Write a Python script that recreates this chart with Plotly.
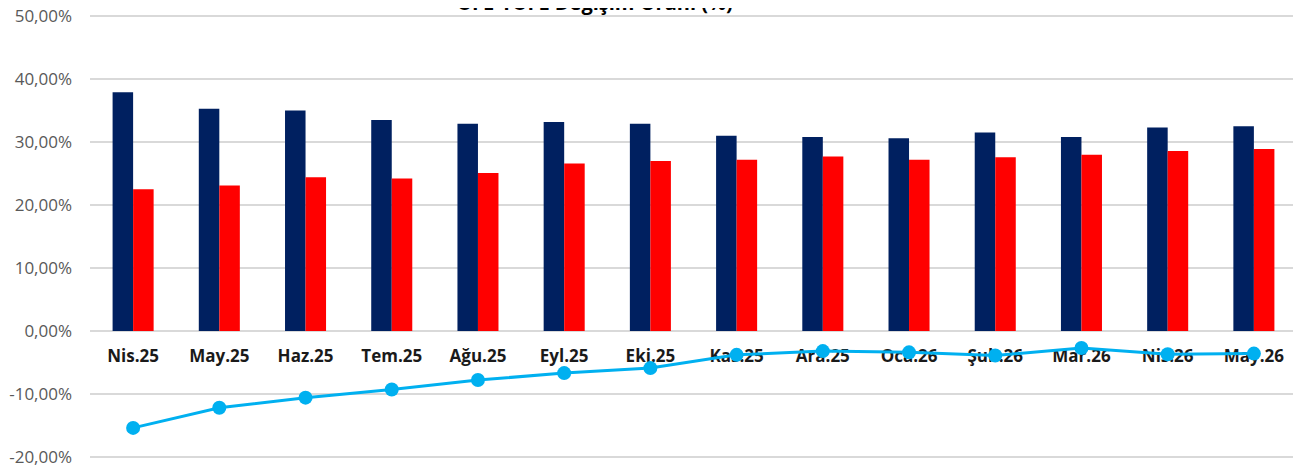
import plotly.graph_objects as go

categories = ["Nis.25", "May.25", "Haz.25", "Tem.25", "Ağu.25", "Eyl.25", "Eki.25",
              "Kas.25", "Ara.25", "Oca.26", "Şub.26", "Mar.26", "Nis.26", "May.26"]
ufe = [37.9, 35.3, 35.0, 33.5, 32.9, 33.2, 32.9, 31.0, 30.8, 30.6, 31.5, 30.8, 32.3, 32.5]
tufe = [22.5, 23.1, 24.4, 24.2, 25.1, 26.6, 27.0, 27.2, 27.7, 27.2, 27.6, 28.0, 28.6, 28.9]
fark = [-15.4, -12.2, -10.6, -9.3, -7.8, -6.7, -5.9, -3.8, -3.2, -3.4, -3.9, -2.7, -3.7, -3.6]
ytick_vals = [-20, -10, 0, 10, 20, 30, 40, 50]
ytick_text = ["-20,00%", "-10,00%", "0,00%", "10,00%", "20,00%", "30,00%", "40,00%", "50,00%"]
title_text = "ÜFE-TÜFE Değişim Oranı (%)"

fig = go.Figure()
fig.add_trace(go.Bar(x=categories, y=ufe, name="ÜFE", marker=dict(color="#002060", line=dict(width=0))))
fig.add_trace(go.Bar(x=categories, y=tufe, name="TÜFE", marker=dict(color="#FF0000", line=dict(width=0))))
fig.add_trace(go.Scatter(x=categories, y=fark, name="Fark", mode="lines+markers",
                         line=dict(color="#00B0F0", width=3),
                         marker=dict(color="#00B0F0", size=14)))

# page body has an 8px default margin, so the figure is sized/offset to compensate
fig.update_layout(
    width=1293, height=460,
    margin=dict(l=82, r=4, t=5, b=8),
    paper_bgcolor="white", plot_bgcolor="white",
    showlegend=False,
    barmode="group", bargap=0.524, bargroupgap=0,
    font=dict(family="Open Sans, Liberation Sans, sans-serif", color="#595959"),
    annotations=[dict(text="<b>" + title_text + "</b>", xref="paper", yref="paper",
                      x=0.4188, y=1.0235, xanchor="center", yanchor="middle",
                      showarrow=False,
                      font=dict(size=20, color="#000000", family="Open Sans, sans-serif"))],
)
fig.update_yaxes(range=[-20.5, 50.5], tickvals=ytick_vals, ticktext=ytick_text,
                 automargin=False, ticklabeloverflow="allow",
                 showgrid=True, gridcolor="#D9D9D9", gridwidth=1.5,
                 zeroline=True, zerolinecolor="#D9D9D9", zerolinewidth=1.5,
                 tickfont=dict(size=17, color="#595959"), ticklabelstandoff=17,
                 showline=False)
fig.update_xaxes(anchor="free", position=20.5 / 71.0, showline=False, ticks="",
                 automargin=False, range=[-0.5, 13.5],
                 tickfont=dict(size=17, color="#1A1A1A", family="Open Sans, sans-serif"),
                 ticklabelstandoff=13, layer="below traces",
                 tickvals=categories, ticktext=["<b>" + c + "</b>" for c in categories])

fig.write_html("out.html")
